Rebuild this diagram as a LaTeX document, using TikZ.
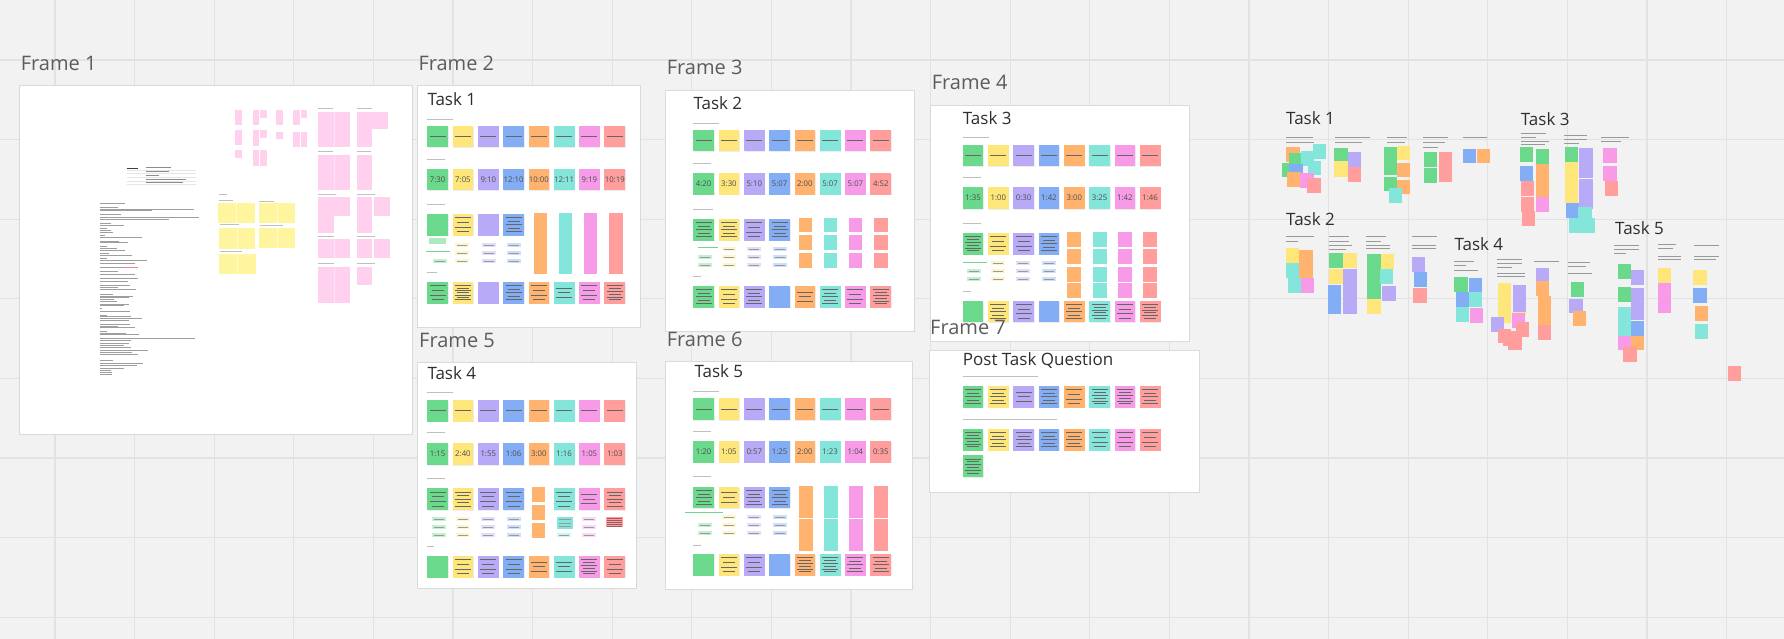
\documentclass[tikz,border=0pt]{standalone}
\usepackage{fontspec}
\setmainfont{Open Sans}

\definecolor{board}{HTML}{F2F2F2}
\definecolor{gridc}{HTML}{E2E2E2}
\definecolor{framec}{HTML}{DADADA}
\definecolor{labelc}{HTML}{5C5C5C}
\definecolor{titlec}{HTML}{2E2E2E}
\definecolor{sgreen}{HTML}{6AD98C}
\definecolor{syellow}{HTML}{FFE67A}
\definecolor{spurple}{HTML}{B8AAF6}
\definecolor{sblue}{HTML}{83AEF6}
\definecolor{sorange}{HTML}{FFB36E}
\definecolor{steal}{HTML}{84E5DB}
\definecolor{spink}{HTML}{F79BE8}
\definecolor{ssalmon}{HTML}{FF9E9C}
\definecolor{lpink}{HTML}{FFD1EE}
\definecolor{lyellow}{HTML}{FFF59F}
\colorlet{col0}{sgreen}
\colorlet{col1}{syellow}
\colorlet{col2}{spurple}
\colorlet{col3}{sblue}
\colorlet{col4}{sorange}
\colorlet{col5}{steal}
\colorlet{col6}{spink}
\colorlet{col7}{ssalmon}

% one row of eight stickies: left x, top y, text lines per sticky (-1 = none)
\newcommand{\noterow}[3]{%
  \foreach \n [count=\i from 0] in {#3}{%
    \ifnum\n<0 \else
      \fill[black!7] ({#1+25.3*\i+0.6},{#2+0.9}) rectangle ++(20.7,21.5);
      \fill[fill=col\i] ({#1+25.3*\i},#2) rectangle ++(20.7,21.5);
      \ifnum\n>0
        \pgfmathsetmacro\gap{min(4.8,14/max(\n-1,1))}
        \foreach \k in {1,...,\n}{%
          \draw[ink] ({#1+25.3*\i+10.35-(mod(\k,2)==1 ? 8 : 6)},{#2+10.75+\gap*(\k-(\n+1)/2)}) -- ++({mod(\k,2)==1 ? 16 : 12},0);
        }%
      \fi
    \fi
  }}
% one row of eight time stickies: left x, top y, name prefix, times
\newcommand{\timerow}[4]{%
  \foreach \t [count=\i from 0] in {#4}{%
    \fill[black!7] ({#1+25.3*\i+0.6},{#2+0.9}) rectangle ++(20.7,21.5);
    \fill[fill=col\i] ({#1+25.3*\i},#2) rectangle ++(20.7,21.5);
    \node[timetxt] (#3\i) at ({#1+25.3*\i+10.35},{#2+10.75}) {\t};
  }}
% small tags under a sticky: x, top y, colour, count
\newcommand{\chips}[4]{%
  \foreach \k in {1,...,#4}{%
    \fill[fill=#3!40] (#1,{#2+8*(\k-1)}) rectangle ++(14,4);
    \draw[draw=black!40, line width=0.35pt] ({#1+2},{#2+2+8*(\k-1)}) -- ++(10,0);
  }}

\begin{document}
\begin{tikzpicture}[
    x=1pt, y=-1pt,
    gridline/.style={draw=gridc, line width=1.2pt},
    frame/.style={fill=white, draw=framec, line width=0.8pt},
    flabel/.style={font=\fontsize{20}{24}\selectfont, text=labelc, anchor=base west, inner sep=0},
    title/.style={font=\fontsize{17}{20}\selectfont, text=titlec, anchor=base west, inner sep=0},
    timetxt/.style={font=\fontsize{7.8}{9}\selectfont, text=black!70, inner sep=0},
    ink/.style={draw=black!60, line width=0.8pt},
    tiny/.style={draw=black!25, line width=0.7pt}
]
    % Board and grid
    \useasboundingbox (0,0) rectangle (1784,639);
    \fill[board] (0,0) rectangle (1784,639);
    \foreach \k in {0,...,21} \draw[gridline] ({55+79.6*\k},0) -- ++(0,639);
    \foreach \k in {0,...,7} \draw[gridline] (0,{60+79.6*\k}) -- ++(1784,0);

    % Frame 1 - notes page
    \node[flabel] (f1) at (20.7,71) {Frame 1};
    \draw[frame] (19.3,85.7) rectangle (412.3,434);
    % table
    \draw[draw=black!75, line width=0.9pt] (127,168) -- ++(11,0);
    \foreach \y/\l in {167.7/25,171.7/23,175.3/13,179/40,182.7/37} \draw[tiny, draw=black!45, line width=0.6pt] (145.7,\y) -- ++(\l,0);
    \foreach \y in {169.7,173.5,177.2,181,184.5} \draw[draw=black!10, line width=0.3pt] (127,\y) -- (196,\y);
    % text lines
    \foreach \y/\l in {203.3/25,207.3/18,209/94,210.7/52,214/21,217.7/99,219.3/69,223.3/11,225/24,228.3/7,230.7/11,
        232.7/13,235/5,237.3/42,241/19,242.3/28,246.7/7,248.3/17,250/25,253.3/9,255.3/32,258.3/7,260.3/47,263.3/35,
        267.3/24,271/18,274.3/35,278/38,281.3/28,285/30,287/18,289.7/36,294/13,296/33,297.3/29,299.3/14,301.7/17,
        304/29,305.7/24,308.3/2,311.7/30,315.3/7,316.7/31,318.7/42,320.7/29,324/30,326/18,327.3/35,331/7,333/26,
        334.7/39,338.3/95,340.3/31,343.7/29,345.3/24,347.3/31,350/10,350.7/48,352.3/32,354/38,360/13,363.3/43,
        365/37,368.3/24,370.3/11,372.3/12,374/12}
        \draw[tiny, draw=black!38, line width=0.6pt] (100,\y) -- ++(\l,0);
    \draw[draw=red!50, line width=0.6pt] (124,267.3) -- ++(14,0);
    % yellow stickies
    \foreach \x/\y/\w/\h in {218.3/203.3/36.7/19.4,259/203.3/36/20,219/227.7/36/21.6,259/228.3/36/20,219/254/36.7/20}{
        \fill[lyellow] (\x,\y) rectangle ++(\w,\h);
        \draw[draw=white!50!lyellow, line width=0.4pt] ({\x+\w/2},\y) -- ++(0,\h);
    }
    \foreach \x/\y/\l in {219/194.3/8,219/200.7/14,259/201.3/15,220/224.3/19,260/225/23,220/251/22}
        \draw[tiny, line width=0.6pt] (\x,\y) -- ++(\l,0);
    % pink stickies
    \foreach \x/\y/\w/\h in {235/110/6.7/15,235/130/6.7/15,235/150/6.7/7.7,252.7/110/6.6/15,260/110/6.7/7.7,
        252.7/130/6.6/16,260/130/6.7/7.7,252.7/150/6.6/15.7,260/150/6.7/15.7,275.7/110/7/15,275.7/131.7/7/7.3,
        293.3/110/6.7/15,300.7/110/6.6/7.7,293.3/131.7/6.7/15,300.7/131.7/6.6/15,
        317.7/111.7/32.3/35,356.7/111.7/15.6/35,372.3/111.7/16/17.6,317.7/155/32.3/35,356.7/155/15.6/35,
        317.7/197.3/16.3/35.4,334/197.3/16/18.4,356.7/197.3/15.6/35.4,374/197.3/16/18.4,317.7/239.3/32.3/18.4,
        356.7/239.3/15.6/18.4,374/239.3/16/18.4,317.7/266.7/32.3/36.6,356.7/266.7/15.6/18.3}
        \fill[lpink] (\x,\y) rectangle ++(\w,\h);
    \foreach \y/\h in {111.7/35,155/35,239.3/18.4,266.7/36.6}
        \draw[draw=white!40!lpink, line width=0.4pt] (334,\y) -- ++(0,\h);
    \foreach \x/\y/\l in {318/108.3/15,357/108.3/15,318/151.7/15,357/151.7/14,318/194.3/18,357/194.3/18,
        318/236.7/16,357/236.7/18,318/263.3/16,357/263.3/18}
        \draw[tiny, line width=0.6pt] (\x,\y) -- ++(\l,0);

    % Frame 2 - Task 1
    \node[flabel] (f2) at (418.3,71) {Frame 2};
    \draw[frame] (417.3,85.7) rectangle (640.7,327.3);
    \node[title] (task1) at (427.3,106) {Task 1};
    \foreach \y/\l in {119/26,159/18,204/18,272/10} \draw[tiny] (427.3,\y) -- ++(\l,0);
    \noterow{427.3}{126}{1,1,1,1,1,1,1,1}
    \timerow{427.3}{169}{ta}{7:30,7:05,9:10,12:10,10:00,12:11,9:19,10:19}
    \noterow{427.3}{214}{0,4,0,5}
    \foreach \i in {4,...,7} \fill[fill=col\i] ({427.3+25.3*\i+5},213) rectangle ++(13.3,61);
    \fill[sgreen!55] (429,238) rectangle (446,244);
    \draw[draw=sgreen, line width=0.8pt] (426,251) -- (450,251);
    \chips{432.7}{259}{sgreen}{1}
    \chips{455}{243}{syellow}{3}
    \chips{481.7}{243}{spurple}{3}
    \chips{506.7}{243}{sblue}{3}
    \noterow{427.3}{282}{4,7,0,5,4,3,4,6}

    % Frame 3 - Task 2
    \node[flabel] (f3) at (666.7,75) {Frame 3};
    \draw[frame] (665.7,90) rectangle (914.3,331);
    \node[title] (task2) at (693.3,110) {Task 2};
    \foreach \y/\l in {123.3/26,163.3/18,209/20,276.7/8} \draw[tiny] (693.3,\y) -- ++(\l,0);
    \noterow{693.3}{130}{1,1,1,1,1,1,1,1}
    \timerow{693.3}{173}{tb}{4:20,3:30,5:10,5:07,2:00,5:07,5:07,4:52}
    \noterow{693.3}{219}{5,5,4,5}
    \foreach \i in {4,...,7} \foreach \y in {217.7,235.3,253.3}
        \fill[fill=col\i] ({693.3+25.3*\i+4},\y) rectangle ++(13.3,14.5);
    \draw[draw=sgreen, line width=0.8pt] (698,247.7) -- (718,247.7);
    \chips{698}{255}{sgreen}{2}
    \chips{721.7}{247.3}{syellow}{3}
    \chips{747}{247.3}{spurple}{3}
    \chips{773}{247.3}{sblue}{3}
    \noterow{693.3}{286}{5,4,5,0,3,5,4,6}

    % Frame 4 - Task 3
    \node[flabel] (f4) at (931.7,89.3) {Frame 4};
    \draw[frame] (930.7,105) rectangle (1189.3,341);
    \node[title] (task3) at (962.7,124.3) {Task 3};
    \foreach \y/\l in {137.7/26,177.7/18,223.3/18,291/8} \draw[tiny] (962.7,\y) -- ++(\l,0);
    \noterow{962.7}{145}{1,1,1,1,1,1,1,1}
    \timerow{962.7}{187.3}{tc}{1:35,1:00,0:30,1:42,3:00,3:25,1:42,1:46}
    \noterow{962.7}{233}{6,4,4,5}
    \foreach \i in {4,...,7} \foreach \y in {232,248.7,266.7,282.7}
        \fill[fill=col\i] ({962.7+25.3*\i+3.5},\y) rectangle ++(14,15.3);
    \draw[draw=sgreen, line width=0.8pt] (963,262.3) -- (987,262.3);
    \chips{966.7}{269}{sgreen}{2}
    \chips{991}{261.3}{syellow}{3}
    \chips{1016}{261.3}{spurple}{3}
    \chips{1041.7}{261.3}{sblue}{3}
    \noterow{962.7}{300.7}{0,5,4,0,5,6,4,6}

    % Frame 5 - Task 4
    \node[flabel] (f5) at (419,347.3) {Frame 5};
    \draw[frame] (417.3,362.7) rectangle (636.7,588.3);
    \node[title] (task4) at (427.3,379) {Task 4};
    \foreach \y/\l in {392.7/26,432.7/18,478.7/18,546.7/7} \draw[tiny] (427.3,\y) -- ++(\l,0);
    \noterow{427.3}{400}{1,1,1,1,1,1,1,1}
    \timerow{427.3}{443.3}{td}{1:15,2:40,1:55,1:06,3:00,1:16,1:05,1:03}
    \noterow{427.3}{488.3}{4,5,4,4,-1,4,3,5}
    \foreach \y in {487,505,523} \fill[sorange] (532.3,\y) rectangle ++(13,15);
    \chips{431.7}{517}{sgreen}{3}
    \chips{456}{517}{syellow}{3}
    \chips{481}{517}{spurple}{3}
    \chips{506.7}{517}{sblue}{3}
    \fill[steal] (556.7,516.7) rectangle (573.3,529.3);
    \foreach \y in {519.5,523,526.5} \draw[draw=black!40, line width=0.35pt] (559,\y) -- ++(12,0);
    \chips{556.7}{533}{steal}{1}
    \chips{581.7}{517}{spink}{3}
    \fill[ssalmon] (606,516.7) rectangle (623.3,527.3);
    \foreach \y in {518.5,520.5,522.5,524.5,526} \draw[draw=ssalmon!60!black, line width=0.5pt] (607,\y) -- ++(15,0);
    \noterow{427.3}{556}{0,4,4,4,3,3,6,4}

    % Frame 6 - Task 5
    \node[flabel] (f6) at (666.7,346) {Frame 6};
    \draw[frame] (665.7,361.7) rectangle (912.3,589.3);
    \node[title] (task5) at (694.3,377.7) {Task 5};
    \foreach \y/\l in {391/26,431/18,476.7/18,545/8} \draw[tiny] (693.3,\y) -- ++(\l,0);
    \noterow{693.3}{398.3}{1,1,1,1,1,1,1,1}
    \timerow{693.3}{441}{te}{1:20,1:05,0:57,1:25,2:00,1:23,1:04,0:35}
    \noterow{693.3}{486.7}{5,3,5,5}
    \foreach \i in {4,...,7} \foreach \y in {485.7,502,518.7,535}
        \fill[fill=col\i] ({693.3+25.3*\i+4},\y) rectangle ++(14,16);
    \draw[draw=sgreen, line width=0.8pt] (685,512.3) -- (723.3,512.3);
    \chips{698.3}{522.7}{sgreen}{2}
    \chips{721.7}{514.7}{syellow}{3}
    \chips{746.7}{514.7}{spurple}{3}
    \chips{772.7}{514.7}{sblue}{3}
    \noterow{693.3}{554}{0,4,4,0,6,6,5,5}

    % Frame 7 - Post Task Question
    \draw[frame] (929.3,350) rectangle (1199.3,492.7);
    \node[flabel] (f7) at (930,334.3) {Frame 7};
    \node[title] (ptq) at (962.7,365) {Post Task Question};
    \draw[tiny, line width=0.6pt] (962.7,376.7) -- (1038.3,376.7);
    \draw[tiny, line width=0.6pt] (962.7,419) -- (1057.3,419);
    \noterow{962.7}{386}{5,5,3,5,4,6,6,5}
    \noterow{962.7}{429}{6,5,5,5,5,4,4,4}
    \noterow{962.7}{455.3}{6}

    % Loose clusters - task titles
    \node[title] (rt1) at (1286,124.3) {Task 1};
    \node[title] (rt2) at (1286,225.7) {Task 2};
    \node[title] (rt3) at (1520.7,126) {Task 3};
    \node[title] (rt4) at (1454.3,250.7) {Task 4};
    \node[title] (rt5) at (1615,234) {Task 5};
    % cluster headings
    \foreach \x/\y/\l in {1286/137.7/27,1286/142.3/28,1335/137.7/35,1335/142.3/27,1387/137.7/20,1387/142.3/18,
        1423/137.7/25,1423/142.3/22,1423/147/15,1463/137.7/24,
        1286/236.7/28,1286/241/12,1329/236.7/20,1329/241/20,1329/245.3/23,1329/249.7/17,
        1366/236.7/20,1366/241/15,1366/245.5/24,1366/248/24,1412/236.7/25,1412/245.5/24,1412/248/24,
        1454/261.7/20,1454/265.7/12,1454/270/24,1497/259.3/25,1497/263.3/25,1497/267.3/15,1497/273/28,1497/276/28,
        1534/261.7/25,1568.3/262.3/22,1568.3/266.3/18,1568.3/273.3/24,
        1520.7/133.3/25,1520.7/137.3/15,1520.7/141.5/28,1520.7/144.5/24,1564/135/23,1564/139/23,1564/143/15,
        1601/137.7/28,1601/141.7/20,
        1614.3/245/25,1614.3/249/25,1614.3/253/12,1658/244/18,1658/248/15,1658/256.7/23,1658/259.7/23,
        1694.3/245/25,1694.3/256.7/25,1694.3/259.7/22}
        \draw[tiny, draw=black!40, line width=0.6pt] (\x,\y) -- ++(\l,0);
    % cluster stickies
    \foreach \c/\x/\y/\w/\h in {
        sorange/1286/146.7/14/15, steal/1312.7/144.3/13/15, sgreen/1289.3/153.3/11.7/11.7, steal/1301/151/13.3/15,
        sgreen/1282/162.7/8/14.6, sblue/1289.3/164/13.4/9.3, steal/1307.7/160.7/13/14.3, sorange/1287.3/171.7/13.7/15,
        spink/1300.3/173/13.4/14.7, ssalmon/1307/177.7/13.7/15,
        sgreen/1334.3/147.7/13.4/13.6, spurple/1347.7/152/13.3/14.7, syellow/1334.3/161.3/13.4/15.4, ssalmon/1347.7/167.3/13.3/15,
        sgreen/1384/146.7/13.3/28.3, syellow/1397.3/146/12.7/14.3, sorange/1397.3/162.7/12.7/14.6, sgreen/1384/176.7/13.3/14.3,
        sorange/1397.3/180/12.7/14.3, steal/1389/188.3/12.7/15,
        sgreen/1424/151.7/12.7/15, sgreen/1424/168.3/12.7/15, ssalmon/1439/151.7/12.7/30.6,
        sblue/1462.7/148.7/13/14.6, sorange/1477/148.7/13/14.6,
        syellow/1286/248.3/13.3/15, sorange/1299.3/250/13.4/28.3, steal/1286/263.3/13.3/15, steal/1288.3/278.3/12.7/15,
        spink/1301/278.3/13.3/15,
        sgreen/1329.3/253.3/13.4/15, syellow/1343.3/253.3/13.4/15, syellow/1329.3/269/13.4/15, spurple/1343.3/269/13.4/45,
        sblue/1327.7/285/13.3/29,
        sgreen/1367.3/254.3/13.4/44.7, syellow/1367.3/299/13.4/15, syellow/1381/254.3/13.3/15, steal/1380/269.3/13.3/15,
        spurple/1382.3/285.7/13.4/15,
        spurple/1411.7/256.7/13.3/15, sblue/1414/271.7/12.7/15, ssalmon/1413.3/287.7/13.4/15,
        sgreen/1454.3/276.7/13.4/15, sblue/1469/278.3/12.7/13.4, sblue/1455.7/291.7/13.3/15, steal/1469/291.7/13.3/15,
        steal/1455.7/306.7/13.3/15, spink/1470/308.3/13.3/15,
        syellow/1497.7/282.7/13.3/40, spurple/1512.7/285/13.3/26.7, syellow/1512.7/311.7/13.3/3, spink/1511.7/313.3/13.3/15,
        spurple/1491/316.7/13.3/15, ssalmon/1497.7/329.3/13.3/14, ssalmon/1516/321.7/13.3/15, ssalmon/1503/331/14/15,
        ssalmon/1508.3/335/13.4/15,
        spurple/1536/267.7/13.3/13.3, sorange/1536/281/13.3/15, sorange/1537.7/296/13.3/29, ssalmon/1537.7/325/13.3/15,
        sgreen/1570.7/282.3/13.3/15, spurple/1569.3/299/13.4/14.3, sorange/1572.7/311/13.3/15,
        sgreen/1520/147.3/13.3/15, sblue/1520/166/13.3/14.7, ssalmon/1521/180.7/13.3/15.3, ssalmon/1521/196.7/13.3/15,
        ssalmon/1522/210.7/13.3/15.3, sgreen/1536/149.3/13.3/14.7, sorange/1536/164/13.3/33.3, spink/1536/197.3/13.3/15,
        sgreen/1565/147.3/13.3/15, syellow/1565/162.3/13.3/41, spurple/1579.3/148.3/13.4/30, spurple/1579.3/179.3/13.4/30,
        sblue/1566/203.3/13.3/15, steal/1578.3/207.3/13.4/14.4, steal/1569/218.3/13.3/14.4, steal/1581.7/218.3/13.3/15,
        spink/1603.3/148.3/13.4/14.4, spink/1603.3/166/13.4/14.7, ssalmon/1605/180.7/13.3/15.3,
        sgreen/1617.7/264/13.3/15, spurple/1631/270/13.3/15, sgreen/1617.7/286.7/13.3/15, spurple/1631/287.7/13.3/15,
        spurple/1631/303.3/13.3/16.7, steal/1617.7/306.7/13.3/29, sblue/1631/321/13.3/14.7, spink/1617.7/335.7/13.3/14.3,
        sorange/1631/335.7/13.3/14.3, ssalmon/1623.3/346.7/13.4/15,
        syellow/1657.7/267.7/13.3/15, spink/1657.7/282.7/13.3/15.6, spink/1657.7/298.3/13.3/15,
        syellow/1693.3/270/13.4/15, sblue/1693.3/288.3/13.4/15, sorange/1695/306/13.3/15, steal/1695/324.3/13.3/15,
        ssalmon/1727.7/366/13.3/15}
        \fill[fill=\c] (\x,\y) rectangle ++(\w,\h);
\end{tikzpicture}
\end{document}
